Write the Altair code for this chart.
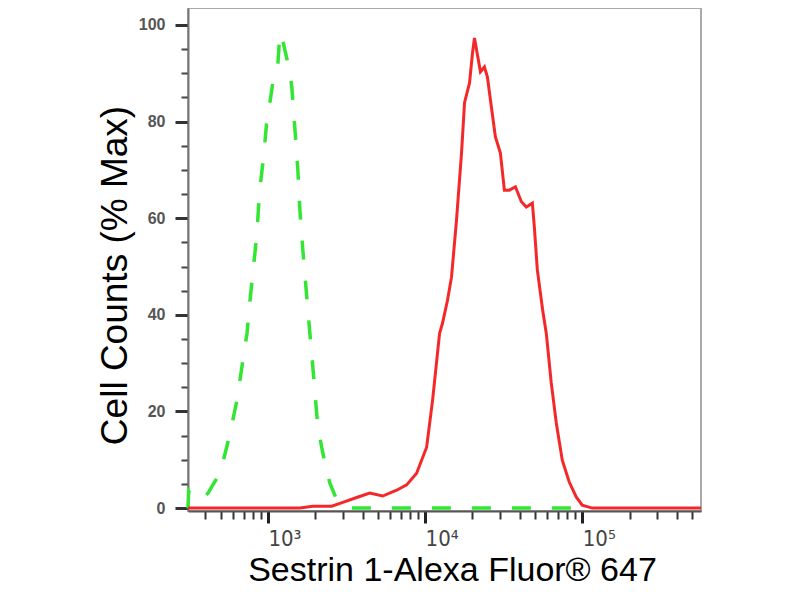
import altair as alt
import pandas as pd

# ---- data ----
green_x = [310, 313, 330, 360, 390, 416, 450, 495, 535, 574, 636, 690, 736, 769, 810, 852,
           877, 903, 930, 957, 985, 1030, 1076, 1157, 1192, 1230, 1282, 1380, 1420, 1483,
           1550, 1597, 1668, 1795, 1931, 2077, 2235, 2476, 2743, 3316, 95000]
green_y = [0, 3.5, 2.3, 1.7, 2.3, 3.1, 5.0, 7.2, 11.4, 15.5, 22.4, 30.2, 36.2, 43, 50, 57,
           63.8, 68, 71.6, 75.8, 80.3, 84, 88.2, 92, 98.3, 97.5, 94.8, 90.3, 87, 78.7,
           70, 61.7, 53.4, 41, 29.2, 16.8, 11.4, 5.2, 1.7, 0, 0]

red_x = [310, 1596, 1931, 2547, 2993, 3673, 4443, 5373, 6594, 7634, 8834, 10230, 11170,
         12370, 12920, 13890, 14730, 15850, 17060, 17830, 19180, 20040, 20620, 22510,
         23860, 24930, 26420, 28030, 30150, 31970, 34410, 37570, 41020, 44080, 48170,
         49580, 51800, 56000, 59050, 63530, 68390, 74650, 82680, 91570, 100000, 115700,
         570000]
red_y = [0, 0, 0.4, 0.4, 1.2, 2.2, 3.1, 2.5, 3.7, 4.8, 7.2, 12.6, 22.4,
         36.2, 38.3, 43, 47.8, 59.6, 73.5, 83.9, 88, 94.2, 97.3, 90.3,
         91.3, 89.2, 83, 76.8, 73.5, 65.8, 65.8, 66.5, 63.4, 62.3, 63.1,
         58.2, 49.3, 41, 36.2, 25.9, 17.6, 9.9, 5.4, 2.3, 0.6, 0,
         0]

x_major = [1000, 10000, 100000]
x_minor = [400, 500, 600, 700, 800, 900,
           2000, 3000, 4000, 5000, 6000, 7000, 8000, 9000,
           20000, 30000, 40000, 50000, 60000, 70000, 80000, 90000,
           200000, 300000, 400000, 500000]
y_major = [0, 20, 40, 60, 80, 100]
y_minor = [5, 10, 15, 25, 30, 35, 45, 50, 55, 65, 70, 75, 85, 90, 95]

x_title = "Sestrin 1-Alexa Fluor® 647"
y_title = "Cell Counts (% Max)"

green = pd.DataFrame({"x": green_x, "y": green_y})
red = pd.DataFrame({"x": red_x, "y": red_y})

FONT = "Liberation Sans"
TICKFONT = "DejaVu Sans Condensed"
xscale = alt.Scale(type="log", domain=[310, 570000], nice=False)
yscale = alt.Scale(domain=[-0.6, 103.5], nice=False, zero=False)

x_minor_axis = alt.Axis(orient="bottom", values=x_minor, labels=False, title=None,
                        domain=False, grid=False, tickSize=8, tickWidth=2,
                        tickColor="#333333")
y_minor_axis = alt.Axis(orient="left", values=y_minor, labels=False, title=None,
                        domain=False, grid=False, tickSize=7, tickWidth=2,
                        tickColor="#444444")

x_major_axis = alt.Axis(
    orient="bottom", values=x_major,
    labelExpr="datum.value == 1000 ? '10³' : (datum.value == 10000 ? '10⁴' : '10⁵')",
    grid=False, tickSize=12, tickWidth=3, tickColor="#222222",
    domainColor="#555555", domainWidth=2,
    labelAlign="left", labelBaseline="alphabetic", labelPadding=22,
    labelFont=TICKFONT, labelFontSize=22, labelColor="#444444",
    labelFlush=False, labelOverlap=False,
    title=x_title, titleFont=FONT, titleFontSize=34, titleFontWeight="normal",
    titleColor="#000000", titleX=264, titleY=69, titleAlign="center",
    titleBaseline="alphabetic",
)
y_major_axis = alt.Axis(
    orient="left", values=y_major, grid=False,
    tickSize=13, tickWidth=3, tickColor="#333333",
    domainColor="#777777", domainWidth=2,
    labelPadding=10, labelFont=FONT, labelFontSize=16, labelColor="#555555",
    labelFontWeight="bold", labelBaseline="middle",
    title=y_title, titleFont=FONT, titleFontSize=37, titleFontWeight="normal",
    titleColor="#000000", titleAngle=270, titleX=-62, titleY=267,
    titleAlign="center", titleBaseline="alphabetic",
)

green_layer = alt.Chart(green).mark_line(
    color="#33e633", strokeWidth=3.5, strokeDash=[19, 21]
).encode(
    x=alt.X("x:Q", scale=xscale, axis=x_minor_axis),
    y=alt.Y("y:Q", scale=yscale, axis=y_minor_axis),
)

red_layer = alt.Chart(red).mark_line(
    color="#f42828", strokeWidth=3
).encode(
    x=alt.X("x:Q", scale=xscale, axis=x_major_axis),
    y=alt.Y("y:Q", scale=yscale, axis=y_major_axis),
)

chart = alt.layer(green_layer, red_layer).resolve_axis(
    x="independent", y="independent"
).properties(
    width=513, height=503,
    autosize=alt.AutoSizeParams(type="none"),
    padding={"left": 180, "top": 0, "right": 90, "bottom": 77},
    background="#ffffff",
).configure_view(
    stroke="#aaaaaa", strokeWidth=2
)

chart.save("out.html", embed_options={"renderer": "svg", "actions": False})
